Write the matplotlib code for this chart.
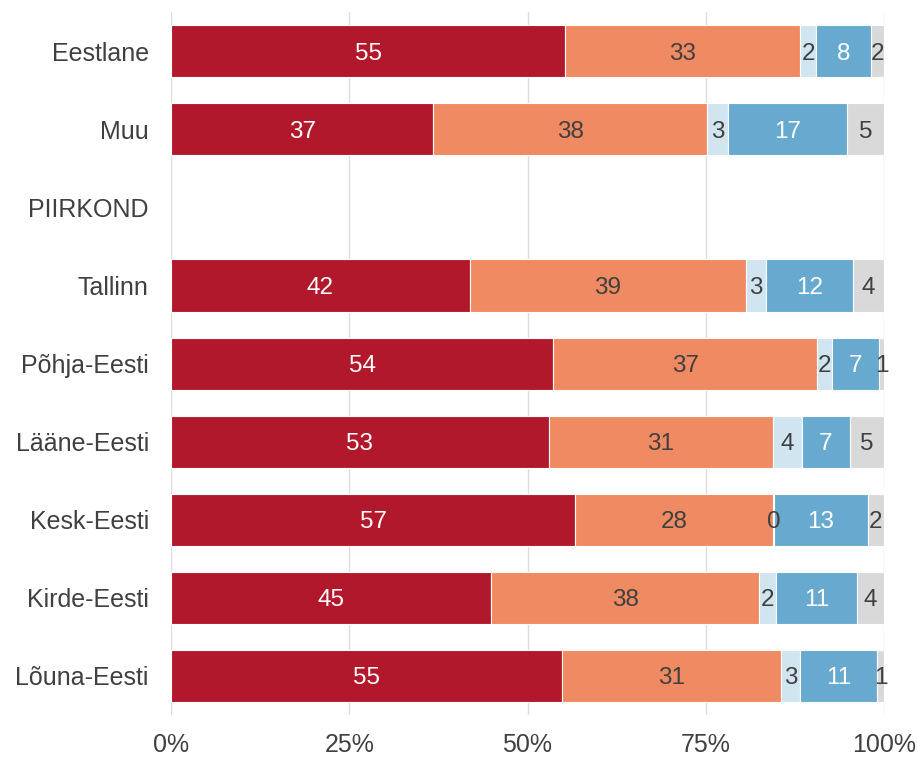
import numpy as np
import matplotlib
matplotlib.use('Agg')
import matplotlib.pyplot as plt

plt.rcParams['font.family'] = ['Liberation Sans', 'DejaVu Sans']

categories = ['Eestlane', 'Muu', 'PIIRKOND', 'Tallinn', 'Põhja-Eesti',
              'Lääne-Eesti', 'Kesk-Eesti', 'Kirde-Eesti', 'Lõuna-Eesti']

# five answer groups, share in % (nan = header row without a bar)
s1 = [55.3, 36.8, np.nan, 41.9, 53.6, 53.0, 56.7, 44.9, 54.8]
s2 = [32.9, 38.4, np.nan, 38.7, 37.0, 31.4, 27.7, 37.6, 30.8]
s3 = [2.3, 2.9, np.nan, 2.9, 2.1, 4.1, 0.2, 2.4, 2.6]
s4 = [7.7, 16.7, np.nan, 12.1, 6.6, 6.7, 13.1, 11.3, 10.8]
s5 = [1.8, 5.2, np.nan, 4.4, 0.7, 4.8, 2.3, 3.8, 1.0]

series = [s1, s2, s3, s4, s5]
colors = ['#B2182B', '#EF8A62', '#D1E5F0', '#67A9CF', '#D9D9D9']
text_colors = ['white', '#404040', '#404040', 'white', '#404040']

fig = plt.figure(figsize=(9.17, 7.58), dpi=100)
ax = fig.add_axes([0.1865, 0.0567, 0.7775, 0.9273])

y = np.arange(len(categories))
left = np.zeros(len(categories))
for vals, col, tcol in zip(series, colors, text_colors):
    vals = np.array(vals, dtype=float)
    has = ~np.isnan(vals)
    ax.barh(y[has], vals[has], left=left[has], height=0.667, color=col,
            edgecolor='white', linewidth=0.8, zorder=2)
    for i in np.where(has)[0]:
        ax.text(left[i] + vals[i] / 2, y[i], '%.0f' % vals[i], ha='center',
                va='center_baseline', color=tcol, fontsize=17.5, zorder=3)
    left = left + np.nan_to_num(vals)

ax.set_xlim(0, 100)
ax.set_ylim(len(categories) - 0.5, -0.5)
ax.set_yticks(y)
ax.set_yticklabels(categories)
ax.set_xticks([0, 25, 50, 75, 100])
ax.set_xticklabels(['0%', '25%', '50%', '75%', '100%'])
ax.tick_params(axis='both', length=0, labelsize=18, colors='#404040')
ax.tick_params(axis='y', pad=16)
ax.tick_params(axis='x', pad=13)
ax.grid(axis='x', color='#DDDDDD', linewidth=1, zorder=0)
ax.set_axisbelow(True)
for sp in ax.spines.values():
    sp.set_visible(False)

fig.savefig('out.png', dpi=100)
plt.close(fig)
